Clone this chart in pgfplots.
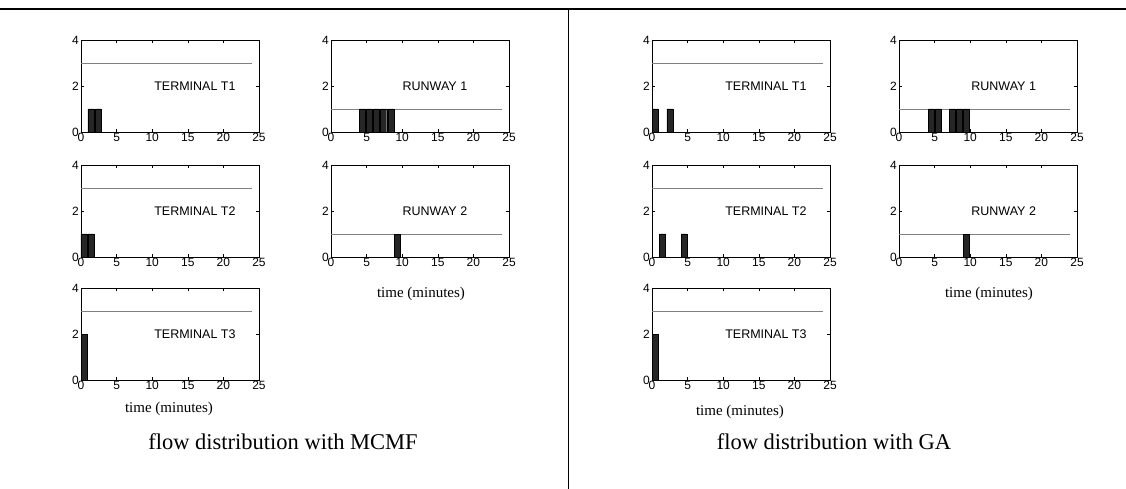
\documentclass[border=0pt]{standalone}
\usepackage{fontspec}
\setmainfont{Liberation Serif}
\newfontfamily\arial{Liberation Sans}
\usepackage{pgfplots}
\pgfplotsset{compat=1.18}

\newcommand{\tk}{\arial\fontsize{12}{13}\selectfont}
\pgfplotsset{
  panel/.style={
    scale only axis, width=178pt, height=92pt,
    anchor=south west,
    xmin=0, xmax=25, ymin=0, ymax=4,
    xtick={0,5,...,25}, ytick={0,2,4},
    xticklabels={0,5,10,15,20,25},
    yticklabels={0,2,4},
    tick align=inside, tick pos=both,
    major tick length=3pt,
    axis line style={line width=0.7pt},
    every tick/.style={black, line width=0.5pt},
    xticklabel style={font=\tk, inner sep=1pt, text depth=0pt},
    yticklabel style={font=\tk, inner sep=1pt, xshift=-1pt},
    clip=false,
  },
  cap/.style={black!50, line width=0.8pt},
  flow/.style={ybar, bar width=0.85, bar shift=0pt, fill=black!85, draw=black, line width=0.4pt},
}
\newcommand{\lbl}[1]{\arial\fontsize{12.5}{14}\selectfont #1}

\begin{document}
\begin{tikzpicture}[x=1pt,y=1pt]
\path[use as bounding box] (0,0) rectangle (1126,489);
\draw[line width=1.5pt] (0pt,480pt) -- (1126pt,480pt);
\draw[line width=1pt] (568pt,480pt) -- (568pt,0pt);

% ---------- MCMF ----------
\begin{axis}[panel, at={(81pt,357pt)}]
  \addplot[cap] coordinates {(0,3) (24,3)};
  \addplot[flow] coordinates {(1.4,1) (2.4,1)};
  \node at (16,2) {\lbl{TERMINAL T1}};
\end{axis}
\begin{axis}[panel, at={(331pt,357pt)}]
  \addplot[cap] coordinates {(0,1) (24,1)};
  \addplot[flow] coordinates {(4.4,1) (5.4,1) (6.4,1) (7.4,1) (8.4,1)};
  \node at (14.6,2) {\lbl{RUNWAY 1}};
\end{axis}
\begin{axis}[panel, at={(81pt,232pt)}]
  \addplot[cap] coordinates {(0,3) (24,3)};
  \addplot[flow] coordinates {(0.4,1) (1.4,1)};
  \node at (16,2) {\lbl{TERMINAL T2}};
\end{axis}
\begin{axis}[panel, at={(331pt,232pt)}]
  \addplot[cap] coordinates {(0,1) (24,1)};
  \addplot[flow] coordinates {(9.3,1)};
  \node at (14.6,2) {\lbl{RUNWAY 2}};
\end{axis}
\begin{axis}[panel, at={(81pt,109pt)}]
  \addplot[cap] coordinates {(0,3) (24,3)};
  \addplot[flow] coordinates {(0.4,2)};
  \node at (16,2) {\lbl{TERMINAL T3}};
\end{axis}
\node[font=\fontsize{15}{18}\selectfont] at (169pt,80pt) {time (minutes)};
\node[font=\fontsize{15}{18}\selectfont] at (421pt,195pt) {time (minutes)};
\node[font=\fontsize{22.5}{27}\selectfont] at (283pt,47pt) {flow distribution with MCMF};

% ---------- GA ----------
\begin{axis}[panel, at={(652pt,357pt)}]
  \addplot[cap] coordinates {(0,3) (24,3)};
  \addplot[flow] coordinates {(0.45,1) (2.5,1)};
  \node at (16,2) {\lbl{TERMINAL T1}};
\end{axis}
\begin{axis}[panel, at={(899pt,357pt)}]
  \addplot[cap] coordinates {(0,1) (24,1)};
  \addplot[flow] coordinates {(4.5,1) (5.5,1) (7.5,1) (8.5,1) (9.5,1)};
  \node at (14.7,2) {\lbl{RUNWAY 1}};
\end{axis}
\begin{axis}[panel, at={(652pt,232pt)}]
  \addplot[cap] coordinates {(0,3) (24,3)};
  \addplot[flow] coordinates {(1.45,1) (4.5,1)};
  \node at (16,2) {\lbl{TERMINAL T2}};
\end{axis}
\begin{axis}[panel, at={(899pt,232pt)}]
  \addplot[cap] coordinates {(0,1) (24,1)};
  \addplot[flow] coordinates {(9.4,1)};
  \node at (14.7,2) {\lbl{RUNWAY 2}};
\end{axis}
\begin{axis}[panel, at={(652pt,109pt)}]
  \addplot[cap] coordinates {(0,3) (24,3)};
  \addplot[flow] coordinates {(0.45,2)};
  \node at (16,2) {\lbl{TERMINAL T3}};
\end{axis}
\node[font=\fontsize{15}{18}\selectfont] at (740pt,77pt) {time (minutes)};
\node[font=\fontsize{15}{18}\selectfont] at (989pt,195pt) {time (minutes)};
\node[font=\fontsize{22.5}{27}\selectfont] at (834pt,47pt) {flow distribution with GA};
\end{tikzpicture}
\end{document}
